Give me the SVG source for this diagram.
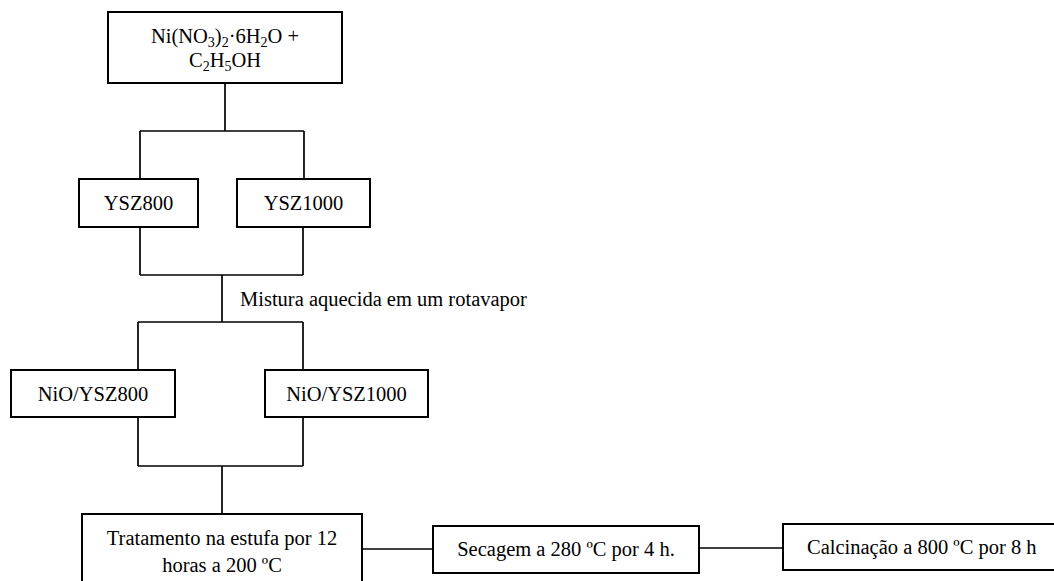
<svg xmlns="http://www.w3.org/2000/svg" width="1054" height="581" viewBox="0 0 1054 581">
<style>
.box{fill:#fff;stroke:#000;stroke-width:2}
.t{font-size:20.5px;fill:#000}
.c{text-anchor:middle}
.ln{stroke:#000;stroke-width:1.7;fill:none}
.sb{font-size:14px}
</style>
<rect width="1054" height="581" fill="#fff"/>
<g id="connectors">
<path class="ln" d="M225,83 V131 M140,131 H304 M140,131 V179 M304,131 V179"/>
<path class="ln" d="M140,227 V275 M303,227 V275 M140,275 H303 M222,275 V322 M138,322 H303 M138,322 V370 M303,322 V370"/>
<path class="ln" d="M138,417 V466 M303,417 V466 M138,466 H303 M222,466 V514"/>
<path class="ln" d="M362,549 H433 M699,548 H783"/>
</g>
<g font-family="'Liberation Serif', 'Times New Roman', 'DejaVu Serif', serif">
<g id="label-mistura"><text class="t" x="240" y="306">Mistura aquecida em um rotavapor</text></g>
<g id="n-precursor">
<rect class="box" x="108" y="12" width="234" height="71"/>
<text class="t c" x="225" y="43">Ni(NO<tspan class="sb" dy="4">3</tspan><tspan dy="-4">)</tspan><tspan class="sb" dy="4">2</tspan><tspan dy="-4">·6H</tspan><tspan class="sb" dy="4">2</tspan><tspan dy="-4">O +</tspan></text>
<text class="t c" x="225" y="67">C<tspan class="sb" dy="4">2</tspan><tspan dy="-4">H</tspan><tspan class="sb" dy="4">5</tspan><tspan dy="-4">OH</tspan></text>
</g>
<g id="n-ysz800">
<rect class="box" x="79" y="179" width="119" height="48"/>
<text class="t c" x="138.5" y="210">YSZ800</text>
</g>
<g id="n-ysz1000">
<rect class="box" x="237" y="179" width="133" height="48"/>
<text class="t c" x="303.5" y="210">YSZ1000</text>
</g>
<g id="n-nio800">
<rect class="box" x="11" y="370" width="164" height="47"/>
<text class="t c" x="93" y="401">NiO/YSZ800</text>
</g>
<g id="n-nio1000">
<rect class="box" x="265" y="370" width="163" height="47"/>
<text class="t c" x="346.5" y="401">NiO/YSZ1000</text>
</g>
<g id="n-tratamento">
<rect class="box" x="82" y="514" width="280" height="80"/>
<text class="t c" x="222" y="545">Tratamento na estufa por 12</text>
<text class="t c" x="222" y="572">horas a 200 ºC</text>
</g>
<g id="n-secagem">
<rect class="box" x="433" y="526" width="266" height="47"/>
<text class="t c" x="566" y="556">Secagem a 280 ºC por 4 h.</text>
</g>
<g id="n-calcinacao">
<rect class="box" x="783" y="524" width="280" height="46"/>
<text class="t" x="807" y="554">Calcinação a 800 ºC por 8 h</text>
</g>
</g>
</svg>
